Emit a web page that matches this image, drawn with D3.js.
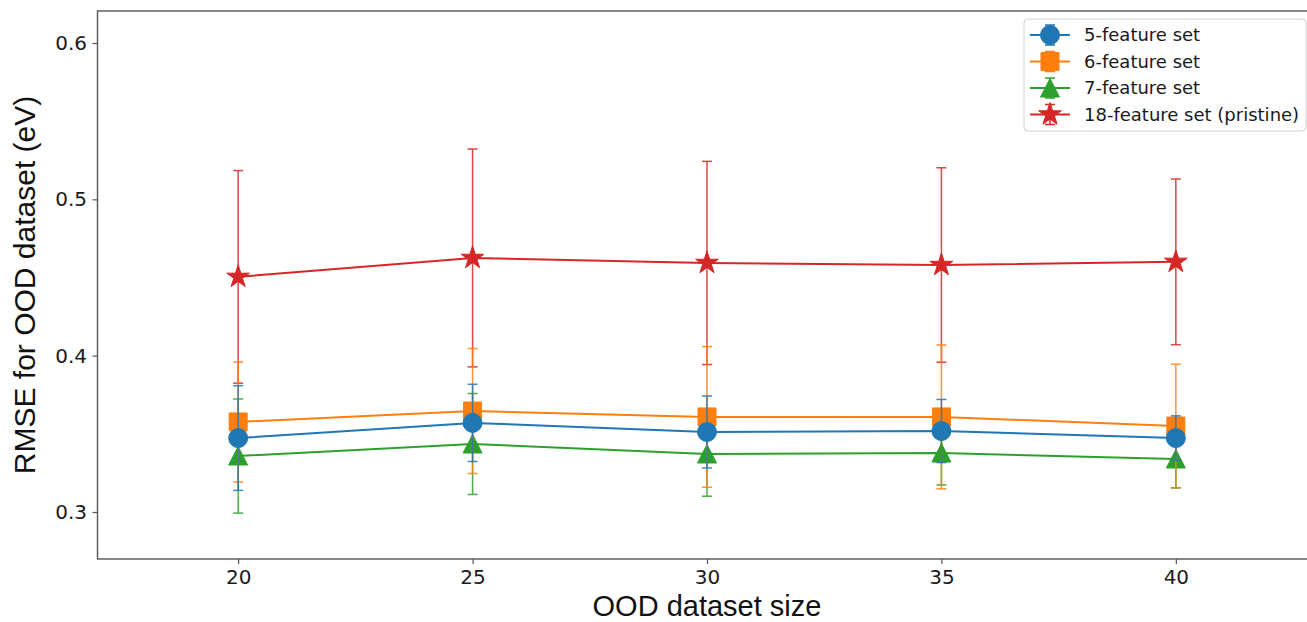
<!DOCTYPE html>
<html><head><meta charset="utf-8">
<script src="https://cdn.jsdelivr.net/npm/d3@7"></script>
<style>body{margin:0;background:#fff}</style>
</head><body><svg id="c" width="1307" height="622"></svg>
<script>
// ---- data ----
const sizes = [20, 25, 30, 35, 40];
const labels = ["5-feature set", "6-feature set", "7-feature set", "18-feature set (pristine)"];
const rmse5  = [0.3473, 0.3570, 0.3512, 0.3518, 0.3473];
const err5   = [0.0335, 0.0247, 0.0230, 0.0202, 0.0142];
const rmse6  = [0.3576, 0.3646, 0.3608, 0.3608, 0.3550];
const err6   = [0.0384, 0.0400, 0.0450, 0.0460, 0.0395];
const rmse7  = [0.3358, 0.3435, 0.3371, 0.3377, 0.3339];
const err7   = [0.0365, 0.0323, 0.0270, 0.0204, 0.0185];
const rmse18 = [0.4504, 0.4625, 0.4593, 0.4580, 0.4600];
const err18  = [0.0680, 0.0697, 0.0650, 0.0622, 0.0530];
const xTicks = [20, 25, 30, 35, 40];
const yTicks = [0.3, 0.4, 0.5, 0.6];
const xLabel = "OOD dataset size";
const yLabel = "RMSE for OOD dataset (eV)";

const colors = ["#1f77b4", "#ff7f0e", "#2ca02c", "#d62728"];
const markerTypes = ["circle", "square", "triangle", "star"];
const seriesVals = [rmse5, rmse6, rmse7, rmse18];
const seriesErr = [err5, err6, err7, err18];

const series = labels.map((l, i) => ({
  label: l, color: colors[i], marker: markerTypes[i],
  pts: sizes.map((s, j) => ({x: s, y: seriesVals[i][j], e: seriesErr[i][j]}))
}));

// ---- layout ----
const svg = d3.select("#c");
const x = d3.scaleLinear().domain([17, 43]).range([97.5, 1316.5]);
const y = d3.scaleLinear().domain([0.26993, 0.62047]).range([559, 11]);

function markerPath(type) {
  if (type === "circle") return d3.symbol(d3.symbolCircle, Math.PI * 9.5 * 9.5)();
  if (type === "square") return "M-9,-9H9V9H-9Z";
  if (type === "triangle") return "M0,-9.5L9.5,9L-9.5,9Z";
  return d3.symbol(d3.symbolStar, 12 * 12 / 0.8908130915292852)();
}

// frame
svg.append("rect")
  .attr("x", x(17)).attr("y", y(0.62047))
  .attr("width", x(43) - x(17)).attr("height", y(0.26993) - y(0.62047))
  .attr("fill", "none").attr("stroke", "#555").attr("stroke-width", 1.4);

// axes
const gx = svg.append("g").attr("transform", `translate(0,${y(0.26993)})`)
  .call(d3.axisBottom(x).tickValues(xTicks).tickSize(5).tickPadding(6));
const gy = svg.append("g").attr("transform", `translate(${x(17)},0)`)
  .call(d3.axisLeft(y).tickValues(yTicks).tickFormat(d3.format(".1f")).tickSize(5).tickPadding(5.5));
[gx, gy].forEach(g => {
  g.select(".domain").remove();
  g.selectAll(".tick line").attr("stroke", "#555").attr("stroke-width", 1.2);
  g.selectAll(".tick text").attr("font-family", "DejaVu Sans").attr("font-size", 20).attr("fill", "#1a1a1a");
});

// axis labels
svg.append("text").attr("x", (x(17) + x(43)) / 2).attr("y", 616)
  .attr("text-anchor", "middle").attr("font-family", "Liberation Sans, Arial").attr("font-size", 29)
  .attr("fill", "#111").text(xLabel);
svg.append("text").attr("transform", `translate(35,${(y(0.26993) + y(0.62047)) / 2}) rotate(-90)`)
  .attr("text-anchor", "middle").attr("font-family", "Liberation Sans, Arial").attr("font-size", 30)
  .attr("fill", "#111").text(yLabel);

// series (drawn so that 5-feature set ends up on top)
const drawOrder = [3, 2, 1, 0];
const line = d3.line().x(d => x(d.x)).y(d => y(d.y));
drawOrder.forEach(i => {
  const s = series[i];
  const g = svg.append("g");
  g.append("path").datum(s.pts).attr("d", line)
    .attr("fill", "none").attr("stroke", s.color).attr("stroke-width", 2);
  g.selectAll(".m").data(s.pts).join("path").attr("class", "m")
    .attr("transform", d => `translate(${x(d.x)},${y(d.y)})`)
    .attr("d", markerPath(s.marker))
    .attr("fill", s.color).attr("stroke", s.color).attr("stroke-width", 1);
  const eb = g.selectAll(".eb").data(s.pts).join("g").attr("class", "eb")
    .attr("stroke", s.color).attr("stroke-width", 1.5).attr("opacity", 0.85);
  eb.append("line").attr("x1", d => x(d.x)).attr("x2", d => x(d.x))
    .attr("y1", d => y(d.y - d.e)).attr("y2", d => y(d.y + d.e));
  eb.append("line").attr("x1", d => x(d.x) - 5).attr("x2", d => x(d.x) + 5)
    .attr("y1", d => y(d.y + d.e)).attr("y2", d => y(d.y + d.e));
  eb.append("line").attr("x1", d => x(d.x) - 5).attr("x2", d => x(d.x) + 5)
    .attr("y1", d => y(d.y - d.e)).attr("y2", d => y(d.y - d.e));
});

// legend
const lg = svg.append("g");
lg.append("rect").attr("x", 1024).attr("y", 19).attr("width", 282).attr("height", 112)
  .attr("rx", 4).attr("fill", "#fff").attr("fill-opacity", 0.8)
  .attr("stroke", "#d0d0d0").attr("stroke-width", 1);
series.forEach((s, i) => {
  const cy = 35 + i * 26.5;
  const r = lg.append("g");
  r.append("line").attr("x1", 1030).attr("x2", 1070).attr("y1", cy).attr("y2", cy)
    .attr("stroke", s.color).attr("stroke-width", 2);
  r.append("path").attr("transform", `translate(1050,${cy})`).attr("d", markerPath(s.marker))
    .attr("fill", s.color).attr("stroke", s.color);
  const e = r.append("g").attr("stroke", s.color).attr("stroke-width", 1.5);
  e.append("line").attr("x1", 1050).attr("x2", 1050).attr("y1", cy - 10).attr("y2", cy + 10);
  e.append("line").attr("x1", 1045).attr("x2", 1055).attr("y1", cy - 10).attr("y2", cy - 10);
  e.append("line").attr("x1", 1045).attr("x2", 1055).attr("y1", cy + 10).attr("y2", cy + 10);
  r.append("text").attr("x", 1084).attr("y", cy).attr("dy", "0.35em")
    .attr("font-family", "DejaVu Sans").attr("font-size", 18).attr("fill", "#1a1a1a").text(s.label);
});
</script></body></html>
